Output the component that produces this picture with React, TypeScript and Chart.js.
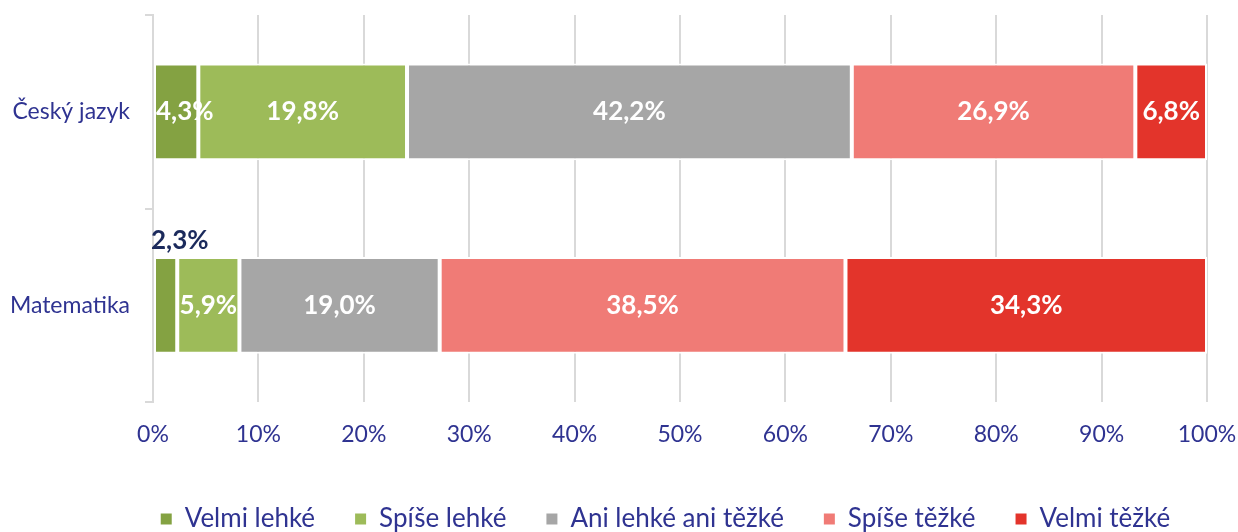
import React, { useEffect, useRef } from 'react';
import { Chart, registerables } from 'chart.js';

Chart.register(...registerables);

const categories = ['Český jazyk', 'Matematika'];
const seriesNames = ['Velmi lehké', 'Spíše lehké', 'Ani lehké ani těžké', 'Spíše těžké', 'Velmi těžké'];
const velmiLehke = [4.3, 2.3];
const spiseLehke = [19.8, 5.9];
const aniLehkeAniTezke = [42.2, 19.0];
const spiseTezke = [26.9, 38.5];
const velmiTezke = [6.8, 34.3];
const xTickLabels = ['0%', '10%', '20%', '30%', '40%', '50%', '60%', '70%', '80%', '90%', '100%'];
const seriesColors = ['#84a242', '#9dbb59', '#a6a6a6', '#f07b76', '#e3342b'];

const FONT = 'Lato';
const TEXT_COLOR = '#2f3391';
const OUTSIDE_LABEL_COLOR = '#1b2a5c';
const LEGEND_SHIFT = 62;

const segmentLabels = {
  id: 'segmentLabels',
  afterDatasetsDraw(chart: any) {
    const ctx = chart.ctx;
    ctx.save();
    ctx.font = `bold 26px ${FONT}`;
    ctx.textBaseline = 'middle';
    chart.data.datasets.forEach((ds: any, di: number) => {
      const meta = chart.getDatasetMeta(di);
      if (meta.hidden) return;
      meta.data.forEach((el: any, i: number) => {
        const v = ds.data[i] as number;
        const text = v.toFixed(1).replace('.', ',') + '%';
        const left = Math.min(el.x, el.base);
        const right = Math.max(el.x, el.base);
        const w = right - left;
        const tw = ctx.measureText(text).width;
        if (w < tw * 0.5) {
          ctx.fillStyle = OUTSIDE_LABEL_COLOR;
          ctx.textAlign = 'left';
          ctx.fillText(text, left - 3, el.y - el.height / 2 - 16);
        } else if (w < tw) {
          ctx.fillStyle = '#ffffff';
          ctx.textAlign = 'left';
          ctx.fillText(text, left + 2, el.y);
        } else {
          ctx.fillStyle = '#ffffff';
          ctx.textAlign = 'center';
          ctx.fillText(text, (left + right) / 2, el.y);
        }
      });
    });
    ctx.restore();
  },
};

const legendShift = {
  id: 'legendShift',
  afterLayout(chart: any) {
    const lg = chart.legend;
    if (lg) {
      lg.left += LEGEND_SHIFT;
      lg.right += LEGEND_SHIFT;
    }
  },
};

export default function App() {
  const canvasRef = useRef<HTMLCanvasElement | null>(null);

  useEffect(() => {
    if (!canvasRef.current) return;
    const seriesValues = [velmiLehke, spiseLehke, aniLehkeAniTezke, spiseTezke, velmiTezke];
    const chart = new Chart(canvasRef.current, {
      type: 'bar',
      data: {
        labels: categories,
        datasets: seriesNames.map((name, k) => ({
          label: name,
          data: seriesValues[k],
          backgroundColor: seriesColors[k],
          borderColor: '#ffffff',
          borderWidth: 2,
          borderSkipped: false,
          barPercentage: 0.5,
          categoryPercentage: 1,
        })),
      },
      options: {
        indexAxis: 'y',
        animation: false,
        responsive: true,
        maintainAspectRatio: false,
        layout: { padding: { top: 15, left: 0, right: 31, bottom: -10 } },
        scales: {
          x: {
            stacked: true,
            min: 0,
            max: 100,
            afterFit: (scale: any) => {
              scale.height = 64;
              scale.paddingLeft = 0;
              scale.paddingRight = 0;
            },
            grid: { color: '#d9d9d9', lineWidth: 2, drawTicks: false },
            border: { display: false },
            ticks: {
              stepSize: 10,
              padding: 19,
              color: TEXT_COLOR,
              font: { family: FONT, size: 23 },
              callback: (_v: any, i: number) => xTickLabels[i],
            },
          },
          y: {
            stacked: true,
            afterFit: (scale: any) => {
              scale.width = 153;
              scale.paddingTop = 0;
              scale.paddingBottom = 0;
            },
            grid: {
              drawOnChartArea: false,
              drawTicks: true,
              tickLength: 8,
              color: '#d9d9d9',
              lineWidth: 2,
              offset: true,
            },
            border: { display: true, color: '#d9d9d9', width: 2 },
            ticks: {
              padding: 15,
              color: TEXT_COLOR,
              font: { family: FONT, size: 23 },
            },
          },
        },
        plugins: {
          tooltip: { enabled: false },
          legend: {
            position: 'bottom',
            labels: {
              boxWidth: 11,
              boxHeight: 11,
              padding: 40,
              color: TEXT_COLOR,
              font: { family: FONT, size: 26 },
              generateLabels: (c: any) =>
                Chart.defaults.plugins.legend.labels
                  .generateLabels(c)
                  .map((l: any) => ({ ...l, lineWidth: 0, strokeStyle: 'rgba(0,0,0,0)' })),
            },
          },
        },
      },
      plugins: [segmentLabels, legendShift],
    } as any);
    return () => chart.destroy();
  }, []);

  return (
    <div style={{ position: 'fixed', left: 0, top: 0, width: 1238, height: 532, background: '#ffffff' }}>
      <canvas ref={canvasRef} />
    </div>
  );
}
